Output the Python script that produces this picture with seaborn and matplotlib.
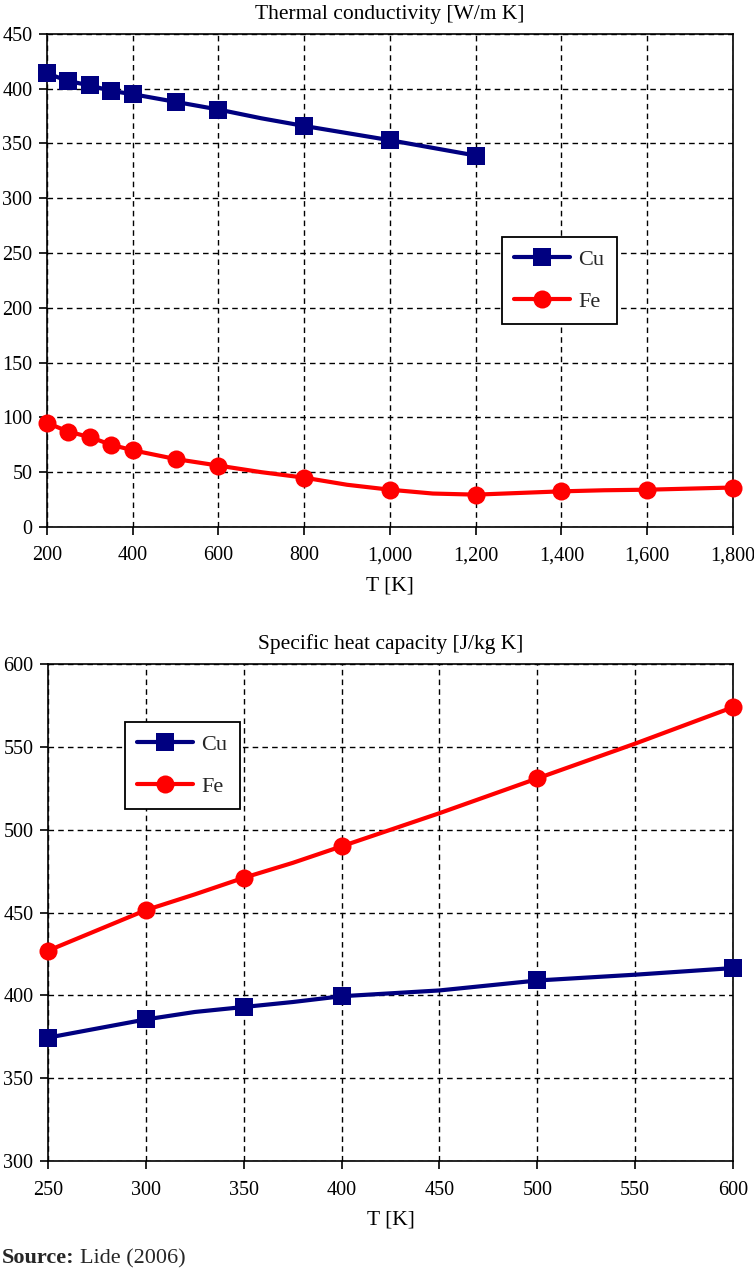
import matplotlib
matplotlib.use("Agg")
import matplotlib.pyplot as plt
import matplotlib.ticker as mticker
import seaborn as sns

# thermal conductivity [W/m K]; all line points, markers only at *_mk temps
k_T = [200, 250, 300, 350, 400, 500, 600, 700, 800, 900, 1000, 1100, 1200, 1300, 1400, 1500, 1600, 1700, 1800]
k_cu_T = [200, 250, 300, 350, 400, 500, 600, 700, 800, 1000, 1200]
k_cu = [414, 407, 403, 398, 395, 388, 381, 373, 366, 353, 339]
k_cu_mk = [200, 250, 300, 350, 400, 500, 600, 800, 1000, 1200]
k_fe = [95, 87, 82, 75, 70, 62, 56, 50, 45, 38.5, 34, 30.5, 29.5, 31, 32.5, 33.5, 34, 35, 36]
k_fe_mk = [200, 250, 300, 350, 400, 500, 600, 800, 1000, 1200, 1400, 1600, 1800]

# specific heat capacity [J/kg K]
cp_T = [250, 300, 325, 350, 375, 400, 450, 500, 550, 600]
cp_cu = [374.5, 385.5, 390, 393, 396, 399.5, 403, 409, 412.5, 416.5]
cp_fe = [427, 451.5, 461, 471, 480, 490, 510, 531, 552, 574]
cp_mk = [250, 300, 350, 400, 500, 600]

NAVY = "#000080"
RED = "#ff0000"

sns.set_theme(style="ticks")
plt.rcParams["font.family"] = ["Liberation Serif", "DejaVu Serif"]


def draw(ax, x, y, marks, color, marker, label):
    idx = [i for i, v in enumerate(x) if v in marks]
    sns.lineplot(x=x, y=y, ax=ax, color=color, lw=3.0, marker=marker, markersize=13,
                 markeredgewidth=0, markevery=idx, label=label, zorder=3, clip_on=False)


def style(ax, title):
    ax.set_title(title, fontsize=15.5, pad=11, color="black")
    ax.set_xlabel("T [K]", fontsize=15.5, labelpad=8, color="black")
    ax.set_ylabel("")
    ax.grid(True, color="black", ls=(0, (4, 3)), lw=1.0)
    ax.set_axisbelow(True)
    for s in ax.spines.values():
        s.set_color("black")
        s.set_linewidth(1.2)
    ax.tick_params(axis="both", direction="out", length=6, width=1.2, labelsize=14.5,
                   colors="black")
    ax.tick_params(axis="x", pad=8)
    ax.tick_params(axis="y", pad=4.5)
    leg = ax.get_legend()
    if leg is not None:
        leg.remove()


def legend(ax, anchor):
    h, l = ax.get_legend_handles_labels()
    leg = ax.legend(h, l, loc="upper left", bbox_to_anchor=anchor, fontsize=16,
                    frameon=True, fancybox=False, edgecolor="black", framealpha=1,
                    handlelength=2.5, borderpad=0.55, labelspacing=0.95, handletextpad=0.4,
                    borderaxespad=0)
    leg.get_frame().set_linewidth(1.3)


fig = plt.figure(figsize=(7.54, 12.71), dpi=100)

ax1 = fig.add_axes([0.0623, 0.5854, 0.9098, 0.3879])
draw(ax1, k_cu_T, k_cu, k_cu_mk, NAVY, "s", "Cu")
draw(ax1, k_T, k_fe, k_fe_mk, RED, "o", "Fe")
ax1.set_xlim(200, 1800)
ax1.set_ylim(0, 450)
ax1.set_xticks(range(200, 1801, 200))
ax1.set_yticks(range(0, 451, 50))
ax1.xaxis.set_major_formatter(mticker.FuncFormatter(lambda v, p: f"{int(v):,}"))
style(ax1, "Thermal conductivity [W/m K]")
legend(ax1, (0.663, 0.588))

ax2 = fig.add_axes([0.0637, 0.0865, 0.9085, 0.391])
draw(ax2, cp_T, cp_cu, cp_mk, NAVY, "s", "Cu")
draw(ax2, cp_T, cp_fe, cp_mk, RED, "o", "Fe")
ax2.set_xlim(250, 600)
ax2.set_ylim(300, 600)
ax2.set_xticks(range(250, 601, 50))
ax2.set_yticks(range(300, 601, 50))
style(ax2, "Specific heat capacity [J/kg K]")
legend(ax2, (0.112, 0.883))

src = fig.text(0.002, 0.002, "Source:", fontsize=16, fontweight="bold", ha="left", va="bottom")
plt.annotate("Lide (2006)", xy=(1, 0), xycoords=src, xytext=(4, 0),
             textcoords="offset points", fontsize=16, ha="left", va="bottom")

fig.savefig("out.png", dpi=100)
